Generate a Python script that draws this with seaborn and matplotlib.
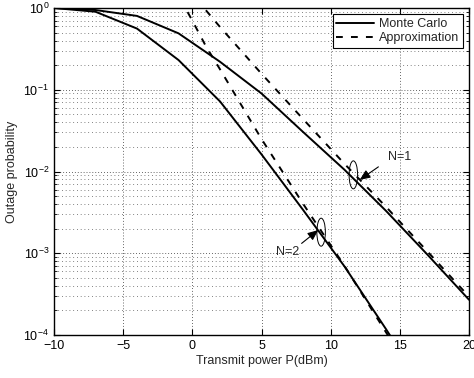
import numpy as np
import pandas as pd
import matplotlib
matplotlib.use("Agg")
import matplotlib.pyplot as plt
import matplotlib.transforms as mtransforms
from matplotlib.patches import Ellipse
from matplotlib.ticker import LogLocator, MultipleLocator, NullFormatter
import seaborn as sns

# === DATA ===
power_mc = [-10, -7, -4, -1, 2, 5, 8, 11, 14, 17, 20]
mc_n1 = [1.0, 0.945, 0.80, 0.49, 0.22, 0.090, 0.0305, 0.0105, 0.0033, 0.00096, 0.00027]
mc_n2 = [1.0, 0.90, 0.56, 0.231, 0.072, 0.0162, 0.0034, 0.00069, 0.000118, 1.9e-5, 2.8e-6]

power_ap = [-1, 0, 1, 2, 5, 8, 11, 14, 17, 20]
ap_n1 = [2.3, 1.45, 0.93, 0.586, 0.157, 0.0439, 0.0124, 0.0037, 0.00105, 0.000295]
ap_n2 = [1.42, 0.70, 0.336, 0.178, 0.025, 0.00404, 0.00070, 0.000108, 1.7e-5, 2.6e-6]

series_labels = ["Monte Carlo", "Approximation"]
x_label = "Transmit power P(dBm)"
y_label = "Outage probability"

# annotation anchors (dB, probability)
n1_text, n1_tail, n1_head, n1_ell = (15.0, 0.0150), (13.45, 0.0114), (12.1, 0.0079), (11.64, 0.0091)
n2_text, n2_tail, n2_head, n2_ell = (6.9, 0.00104), (7.9, 0.00132), (9.1, 0.00192), (9.31, 0.00181)

# === STYLE ===
sns.set_style("ticks")
plt.rcParams["font.family"] = ["Liberation Sans", "DejaVu Sans"]
plt.rcParams["mathtext.default"] = "regular"
plt.rcParams["font.size"] = 9

fig = plt.figure(figsize=(4.74, 3.78), dpi=100)
ax = fig.add_axes([54 / 474, 43 / 378, 415 / 474, 327 / 378])
ax.set_yscale("log")

LW = 1.4
sns.lineplot(x=power_mc, y=mc_n1, ax=ax, color="k", lw=LW, label=series_labels[0], sort=False)
sns.lineplot(x=power_mc, y=mc_n2, ax=ax, color="k", lw=LW, sort=False)
sns.lineplot(x=power_ap, y=ap_n1, ax=ax, color="k", lw=LW, label=series_labels[1], sort=False)
sns.lineplot(x=power_ap, y=ap_n2, ax=ax, color="k", lw=LW, sort=False)
for ln in ax.lines[2:4]:
    ln.set_dashes((3.5, 4.2))

ax.set_xlim(-10, 20)
ax.set_ylim(1e-4, 1)
ax.xaxis.set_major_locator(MultipleLocator(5))
ax.yaxis.set_major_locator(LogLocator(base=10, numticks=10))
ax.yaxis.set_minor_locator(LogLocator(base=10, subs=np.arange(2, 10), numticks=20))
ax.yaxis.set_minor_formatter(NullFormatter())

ax.grid(True, which="major", axis="both", color="0.2", linestyle=(0, (1, 2.5)), lw=0.6)
ax.grid(True, which="minor", axis="y", color="0.35", linestyle=(0, (1, 3.5)), lw=0.6)

ax.tick_params(which="both", direction="in", top=True, right=True, colors="k", labelsize=9)
ax.tick_params(which="major", length=4, width=0.8)
ax.tick_params(which="minor", length=2, width=0.6)
for sp in ax.spines.values():
    sp.set_visible(True)
    sp.set_color("k")
    sp.set_linewidth(1.0)

ax.set_xlabel(x_label, fontsize=9, labelpad=2)
ax.set_ylabel(y_label, fontsize=9, labelpad=4)

leg = ax.legend(loc="upper right", frameon=True, fancybox=False, framealpha=1,
                edgecolor="k", fontsize=9, handlelength=3.0, borderaxespad=0.5,
                borderpad=0.3, labelspacing=0.2, handletextpad=0.4)
leg.get_frame().set_linewidth(0.8)

# ellipses + arrows
for center in (n1_ell, n2_ell):
    tr = fig.dpi_scale_trans + mtransforms.ScaledTranslation(center[0], center[1], ax.transData)
    ax.add_patch(Ellipse((0, 0), 0.085, 0.28, transform=tr, fill=False, ec="k", lw=0.7))

arrow = dict(arrowstyle="-|>,head_length=0.7,head_width=0.3", color="k", lw=0.8, shrinkA=0, shrinkB=0)
ax.annotate("", xy=n1_head, xytext=n1_tail, arrowprops=arrow)
ax.annotate("", xy=n2_head, xytext=n2_tail, arrowprops=arrow)
ax.text(*n1_text, "N=1", ha="center", va="center", fontsize=9)
ax.text(*n2_text, "N=2", ha="center", va="center", fontsize=9)

fig.savefig("out.png", dpi=100)
